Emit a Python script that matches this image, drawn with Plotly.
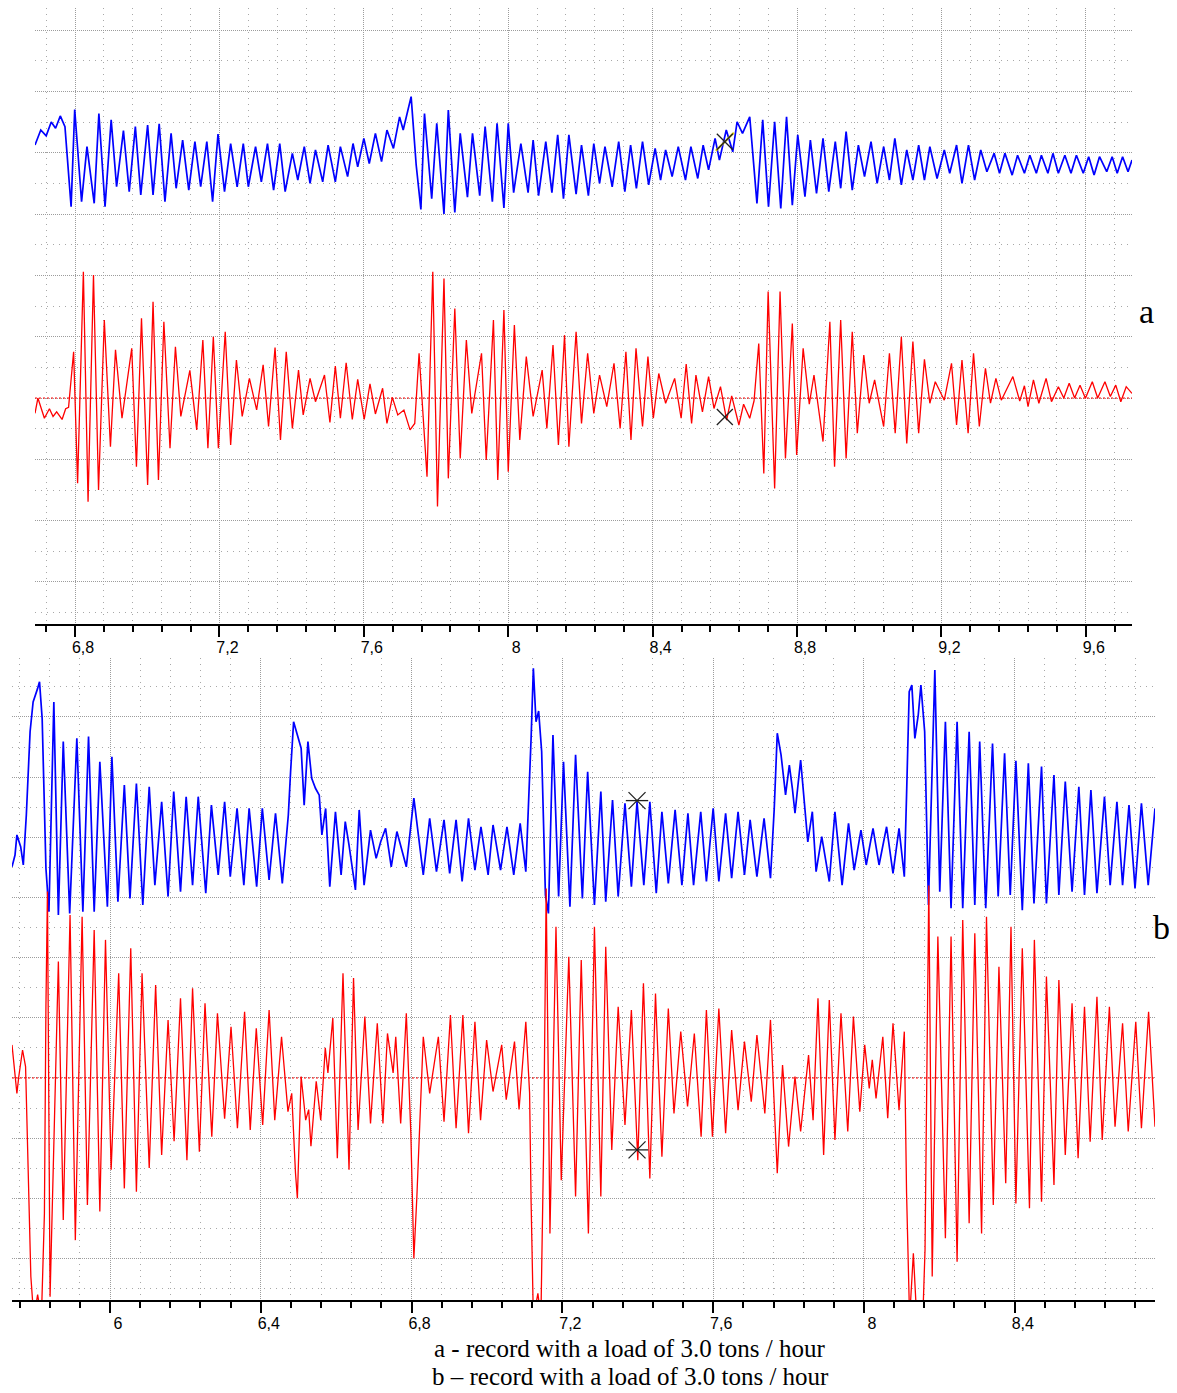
import plotly.graph_objects as go

# ---------------- data (time, signal in grid divisions) ----------------
A_BLUE_T = [6.689, 6.705, 6.720, 6.734, 6.746, 6.759, 6.772, 6.778, 6.789, 6.799, 6.818, 6.833, 6.853, 6.866, 6.883,
            6.900, 6.915, 6.934, 6.950, 6.967, 6.982, 7.001, 7.016, 7.033, 7.049, 7.066, 7.080, 7.098, 7.115, 7.132,
            7.148, 7.165, 7.181, 7.196, 7.214, 7.231, 7.249, 7.266, 7.280, 7.300, 7.316, 7.333, 7.350, 7.367, 7.382,
            7.402, 7.417, 7.435, 7.451, 7.466, 7.486, 7.501, 7.521, 7.535, 7.555, 7.570, 7.583, 7.600, 7.615, 7.632,
            7.649, 7.664, 7.682, 7.699, 7.709, 7.731, 7.745, 7.758, 7.768, 7.788, 7.802, 7.822, 7.834, 7.852, 7.867,
            7.887, 7.901, 7.921, 7.936, 7.956, 7.969, 7.988, 8.000, 8.015, 8.035, 8.055, 8.069, 8.084, 8.104, 8.121,
            8.137, 8.153, 8.168, 8.188, 8.203, 8.222, 8.237, 8.253, 8.268, 8.288, 8.306, 8.323, 8.339, 8.355, 8.372,
            8.389, 8.407, 8.422, 8.436, 8.454, 8.471, 8.491, 8.506, 8.525, 8.540, 8.555, 8.573, 8.585, 8.604, 8.622,
            8.634, 8.649, 8.669, 8.689, 8.705, 8.721, 8.738, 8.755, 8.771, 8.787, 8.802, 8.822, 8.837, 8.854, 8.872,
            8.888, 8.906, 8.921, 8.936, 8.953, 8.970, 8.987, 9.005, 9.022, 9.040, 9.056, 9.071, 9.089, 9.104, 9.121,
            9.137, 9.153, 9.168, 9.188, 9.208, 9.223, 9.242, 9.257, 9.275, 9.292, 9.309, 9.326, 9.346, 9.361, 9.376,
            9.396, 9.411, 9.430, 9.445, 9.463, 9.477, 9.495, 9.509, 9.524, 9.542, 9.559, 9.574, 9.593, 9.608, 9.623,
            9.638, 9.658, 9.673, 9.687, 9.702, 9.717, 9.728]
A_BLUE_V = [8.25, 8.74, 8.55, 9.00, 8.80, 9.20, 8.85, 7.90, 6.24, 9.41, 6.40, 8.20, 6.35, 9.28, 6.24,
            9.07, 6.89, 8.72, 6.73, 8.85, 6.62, 8.90, 6.62, 8.94, 6.40, 8.63, 6.84, 8.41, 6.78, 8.36,
            6.89, 8.36, 6.40, 8.61, 6.73, 8.30, 6.89, 8.30, 6.89, 8.20, 7.05, 8.30, 6.78, 8.30, 6.73,
            7.98, 7.11, 8.20, 7.00, 8.09, 7.05, 8.25, 7.05, 8.20, 7.22, 8.30, 7.54, 8.47, 7.65, 8.63,
            7.71, 8.74, 8.14, 9.17, 8.74, 9.83, 7.60, 6.15, 9.28, 6.50, 8.96, 6.00, 9.39, 6.05, 8.63,
            6.55, 8.63, 6.60, 8.85, 6.40, 8.96, 6.20, 8.96, 6.70, 8.30, 6.70, 8.41, 6.60, 8.36, 6.70,
            8.58, 6.50, 8.58, 6.65, 8.25, 6.60, 8.30, 7.00, 8.20, 6.89, 8.36, 6.73, 8.25, 6.84, 8.36,
            6.95, 8.14, 7.11, 8.09, 7.22, 8.20, 7.11, 8.20, 7.16, 8.25, 7.44, 8.47, 7.76, 8.74, 8.03,
            9.01, 8.63, 9.17, 6.35, 9.07, 6.24, 9.01, 6.18, 9.17, 6.29, 8.58, 6.57, 8.41, 6.67, 8.47,
            6.73, 8.36, 6.84, 8.69, 6.78, 8.25, 7.22, 8.36, 7.00, 8.20, 7.11, 8.47, 6.95, 8.09, 7.11,
            8.25, 7.11, 8.20, 7.16, 8.09, 7.33, 8.25, 7.00, 8.25, 7.11, 8.09, 7.38, 7.98, 7.33, 7.98,
            7.27, 7.92, 7.33, 7.92, 7.33, 7.92, 7.33, 7.98, 7.33, 7.92, 7.33, 7.92, 7.33, 7.87, 7.27,
            7.87, 7.38, 7.87, 7.33, 7.87, 7.38, 7.76]

A_RED_T = [6.689, 6.697, 6.715, 6.729, 6.739, 6.749, 6.764, 6.774, 6.782, 6.796, 6.807, 6.823, 6.836, 6.851, 6.865,
           6.881, 6.898, 6.912, 6.930, 6.957, 6.970, 6.984, 7.001, 7.016, 7.031, 7.046, 7.063, 7.078, 7.093, 7.118,
           7.137, 7.154, 7.168, 7.183, 7.197, 7.216, 7.231, 7.247, 7.263, 7.283, 7.303, 7.321, 7.336, 7.354, 7.369,
           7.385, 7.402, 7.419, 7.432, 7.451, 7.466, 7.491, 7.506, 7.521, 7.535, 7.551, 7.568, 7.583, 7.601, 7.617,
           7.632, 7.652, 7.664, 7.679, 7.694, 7.711, 7.728, 7.741, 7.753, 7.775, 7.791, 7.804, 7.822, 7.834, 7.852,
           7.867, 7.884, 7.899, 7.926, 7.939, 7.959, 7.971, 7.988, 8.000, 8.017, 8.032, 8.050, 8.069, 8.094, 8.107,
           8.124, 8.139, 8.156, 8.168, 8.188, 8.203, 8.220, 8.237, 8.253, 8.273, 8.293, 8.310, 8.326, 8.340, 8.354,
           8.372, 8.387, 8.402, 8.417, 8.436, 8.461, 8.479, 8.493, 8.508, 8.520, 8.538, 8.555, 8.570, 8.588, 8.605,
           8.619, 8.639, 8.652, 8.669, 8.681, 8.694, 8.708, 8.720, 8.738, 8.753, 8.768, 8.787, 8.799, 8.817, 8.834,
           8.847, 8.872, 8.891, 8.904, 8.921, 8.936, 8.953, 8.967, 8.985, 9.000, 9.015, 9.040, 9.056, 9.072, 9.089,
           9.104, 9.121, 9.137, 9.153, 9.168, 9.183, 9.208, 9.228, 9.242, 9.257, 9.274, 9.289, 9.305, 9.322, 9.336,
           9.351, 9.366, 9.398, 9.417, 9.430, 9.440, 9.455, 9.470, 9.490, 9.505, 9.524, 9.539, 9.554, 9.569, 9.584,
           9.599, 9.618, 9.633, 9.653, 9.668, 9.683, 9.697, 9.712, 9.728]
A_RED_V = [-0.50, 0.00, -0.66, -0.35, -0.60, -0.45, -0.70, -0.35, -0.30, 1.51, -2.78, 4.12, -3.38, 4.01, -3.00,
           2.54, -1.59, 1.57, -0.66, 1.62, -2.24, 2.60, -2.84, 3.14, -2.67, 2.49, -1.64, 1.67, -0.60, 0.90,
           -1.04, 1.89, -1.64, 2.00, -1.64, 2.16, -1.53, 1.24, -0.60, 0.64, -0.39, 1.08, -0.93, 1.65, -1.37,
           1.51, -0.99, 0.91, -0.55, 0.64, -0.12, 0.75, -0.80, 1.04, -0.66, 1.15, -0.70, 0.61, -0.70, 0.46,
           -0.52, 0.32, -0.83, 0.02, -0.55, -0.39, -1.04, -0.83, 1.46, -2.57, 4.12, -3.54, 3.90, -2.62, 2.92,
           -1.97, 1.89, -0.50, 1.46, -2.02, 2.54, -2.67, 2.87, -2.40, 2.38, -1.37, 1.35, -0.60, 0.91, -0.99,
           1.73, -1.53, 2.05, -1.59, 2.16, -0.83, 1.46, -0.50, 0.75, -0.28, 1.13, -0.99, 1.51, -1.37, 1.62,
           -0.93, 1.35, -0.66, 0.80, -0.17, 0.64, -0.66, 1.11, -0.83, 0.75, -0.45, 0.70, -0.34, 0.37, -0.72,
           0.07, -0.88, -0.20, -0.66, -0.09, 1.78, -2.46, 3.47, -2.95, 3.47, -1.97, 2.43, -1.86, 1.62, -0.20,
           0.75, -1.42, 2.49, -2.24, 2.54, -1.97, 2.16, -1.15, 1.40, -0.17, 0.59, -0.93, 1.46, -1.15, 2.00,
           -1.48, 1.84, -1.15, 1.26, -0.17, 0.53, -0.07, 1.13, -0.88, 1.24, -1.15, 1.46, -0.93, 0.97, -0.17,
           0.64, -0.07, 0.70, -0.10, 0.40, -0.28, 0.59, -0.17, 0.64, -0.12, 0.37, 0.00, 0.48, 0.00, 0.42,
           -0.01, 0.53, 0.00, 0.53, 0.05, 0.42, -0.12, 0.37, 0.15]

B_BLUE_T = [5.740, 5.748, 5.753, 5.763, 5.770, 5.778, 5.788, 5.796, 5.808, 5.813, 5.820, 5.830, 5.838, 5.851, 5.863,
            5.876, 5.893, 5.912, 5.928, 5.943, 5.958, 5.973, 5.993, 6.005, 6.021, 6.038, 6.053, 6.070, 6.087, 6.104,
            6.119, 6.137, 6.154, 6.169, 6.187, 6.202, 6.219, 6.234, 6.254, 6.269, 6.287, 6.304, 6.319, 6.337, 6.355,
            6.369, 6.389, 6.404, 6.422, 6.439, 6.457, 6.473, 6.479, 6.487, 6.497, 6.507, 6.515, 6.525, 6.535, 6.545,
            6.555, 6.562, 6.572, 6.583, 6.598, 6.613, 6.624, 6.634, 6.651, 6.661, 6.674, 6.691, 6.706, 6.718, 6.731,
            6.746, 6.761, 6.786, 6.806, 6.831, 6.848, 6.866, 6.886, 6.901, 6.918, 6.934, 6.951, 6.968, 6.984, 7.003,
            7.016, 7.036, 7.053, 7.071, 7.088, 7.103, 7.117, 7.123, 7.130, 7.137, 7.145, 7.155, 7.163, 7.175, 7.190,
            7.203, 7.220, 7.235, 7.253, 7.267, 7.285, 7.302, 7.315, 7.333, 7.348, 7.366, 7.383, 7.398, 7.416, 7.432,
            7.449, 7.464, 7.481, 7.499, 7.517, 7.533, 7.548, 7.567, 7.582, 7.600, 7.615, 7.633, 7.649, 7.666, 7.683,
            7.698, 7.716, 7.735, 7.752, 7.762, 7.770, 7.780, 7.792, 7.802, 7.810, 7.817, 7.832, 7.843, 7.851, 7.863,
            7.873, 7.888, 7.908, 7.923, 7.942, 7.959, 7.974, 7.992, 8.006, 8.024, 8.040, 8.060, 8.077, 8.093, 8.107,
            8.113, 8.120, 8.127, 8.135, 8.144, 8.151, 8.161, 8.171, 8.188, 8.201, 8.216, 8.231, 8.247, 8.262, 8.279,
            8.294, 8.307, 8.323, 8.341, 8.356, 8.373, 8.388, 8.403, 8.420, 8.436, 8.451, 8.471, 8.484, 8.504, 8.517,
            8.534, 8.552, 8.570, 8.585, 8.602, 8.618, 8.638, 8.653, 8.671, 8.686, 8.703, 8.719, 8.736, 8.754, 8.772]
B_BLUE_V = [7.02, 7.41, 8.08, 7.69, 7.08, 8.74, 11.51, 12.50, 12.95, 13.17, 11.95, 6.97, 5.53, 12.50, 5.42,
            11.18, 5.47, 11.29, 5.53, 11.35, 5.53, 10.51, 5.69, 10.68, 5.86, 9.74, 5.97, 9.79, 5.75, 9.68,
            6.41, 9.18, 6.03, 9.52, 6.19, 9.35, 6.41, 9.35, 6.14, 9.07, 6.75, 9.18, 6.69, 8.96, 6.41,
            8.96, 6.36, 8.96, 6.58, 8.80, 6.47, 8.74, 10.18, 11.84, 11.40, 10.96, 9.07, 11.18, 9.96, 9.63,
            9.40, 8.08, 8.96, 6.36, 8.85, 6.75, 8.52, 7.74, 6.25, 8.91, 6.41, 8.24, 7.30, 7.85, 8.30,
            7.02, 8.19, 7.02, 9.30, 6.75, 8.63, 6.86, 8.58, 6.80, 8.58, 6.53, 8.63, 6.91, 8.35, 6.75,
            8.41, 6.91, 8.35, 6.75, 8.46, 6.86, 11.29, 13.62, 11.84, 12.20, 10.85, 6.08, 5.47, 11.40, 6.03,
            10.51, 5.69, 10.74, 5.97, 10.18, 5.75, 9.52, 5.86, 9.24, 6.03, 9.13, 6.36, 9.18, 6.41, 9.18,
            6.14, 8.85, 6.47, 8.91, 6.41, 8.80, 6.41, 8.85, 6.53, 8.96, 6.53, 8.80, 6.64, 8.85, 6.75,
            8.58, 6.69, 8.63, 6.64, 8.96, 11.46, 10.74, 9.41, 10.40, 9.63, 8.80, 10.57, 9.07, 7.85, 8.85,
            6.86, 8.02, 6.53, 8.85, 6.41, 8.46, 6.91, 8.24, 7.08, 8.30, 7.08, 8.35, 6.80, 8.30, 6.69,
            9.41, 12.84, 13.06, 11.29, 12.07, 13.06, 11.51, 5.75, 13.56, 6.19, 11.84, 5.64, 11.84, 5.64, 11.51,
            5.75, 11.18, 5.64, 11.12, 6.03, 10.79, 6.08, 10.54, 5.58, 10.46, 5.80, 10.35, 5.80, 10.07, 6.08,
            9.85, 6.19, 9.68, 6.08, 9.57, 6.14, 9.35, 6.41, 9.18, 6.41, 9.07, 6.30, 9.13, 6.41, 8.96]

B_RED_T = [5.740, 5.746, 5.753, 5.758, 5.768, 5.776, 5.780, 5.786, 5.790, 5.798, 5.808, 5.818, 5.826, 5.830, 5.834,
           5.841, 5.863, 5.876, 5.894, 5.908, 5.926, 5.940, 5.958, 5.973, 5.988, 6.003, 6.023, 6.038, 6.055, 6.070,
           6.085, 6.104, 6.121, 6.137, 6.154, 6.170, 6.187, 6.204, 6.219, 6.237, 6.252, 6.270, 6.285, 6.304, 6.321,
           6.338, 6.357, 6.372, 6.388, 6.405, 6.422, 6.437, 6.455, 6.472, 6.482, 6.492, 6.497, 6.507, 6.519, 6.527,
           6.533, 6.547, 6.559, 6.571, 6.578, 6.591, 6.603, 6.618, 6.634, 6.646, 6.658, 6.676, 6.691, 6.709, 6.724,
           6.736, 6.751, 6.758, 6.771, 6.786, 6.798, 6.806, 6.814, 6.831, 6.848, 6.871, 6.886, 6.903, 6.918, 6.936,
           6.951, 6.968, 6.983, 6.999, 7.016, 7.039, 7.051, 7.073, 7.085, 7.103, 7.113, 7.117, 7.123, 7.135, 7.143,
           7.150, 7.157, 7.167, 7.183, 7.197, 7.217, 7.235, 7.250, 7.269, 7.285, 7.302, 7.315, 7.331, 7.348, 7.366,
           7.383, 7.400, 7.415, 7.432, 7.447, 7.464, 7.481, 7.496, 7.514, 7.532, 7.550, 7.568, 7.582, 7.598, 7.615,
           7.633, 7.649, 7.666, 7.683, 7.701, 7.716, 7.737, 7.752, 7.770, 7.784, 7.800, 7.817, 7.832, 7.853, 7.865,
           7.878, 7.893, 7.908, 7.923, 7.939, 7.957, 7.972, 7.989, 8.002, 8.014, 8.022, 8.032, 8.050, 8.063, 8.077,
           8.093, 8.107, 8.113, 8.121, 8.131, 8.140, 8.156, 8.162, 8.168, 8.172, 8.181, 8.196, 8.216, 8.231, 8.247,
           8.262, 8.279, 8.294, 8.312, 8.325, 8.343, 8.358, 8.376, 8.390, 8.403, 8.420, 8.439, 8.452, 8.471, 8.484,
           8.504, 8.517, 8.534, 8.552, 8.568, 8.585, 8.600, 8.618, 8.632, 8.651, 8.666, 8.686, 8.701, 8.721, 8.736,
           8.755, 8.772]
B_RED_V = [1.10, 0.38, -0.51, 0.05, 0.93, 0.38, -1.73, -4.50, -6.60, -8.00, -7.20, -8.00, -4.50, 2.37, 6.20,
           -7.27, 3.87, -4.72, 5.42, -5.39, 5.36, -4.22, 4.92, -4.44, 4.59, -3.05, 3.48, -3.67, 4.31, -3.78,
           3.48, -2.99, 3.09, -2.56, 1.93, -2.10, 2.65, -2.73, 2.98, -2.45, 2.48, -1.95, 2.15, -1.35, 1.70,
           -1.67, 2.20, -1.73, 1.65, -1.56, 2.26, -1.40, 1.37, -1.12, -0.51, -3.16, -4.00, 0.05, -1.40, -1.05,
           -2.27, -0.11, -1.40, 1.00, 0.17, 1.99, -2.67, 3.48, -3.05, 3.32, -1.73, 2.04, -1.51, 1.82, -1.51,
           1.48, 0.17, 1.37, -1.51, 2.15, -1.84, -6.00, -3.94, 1.37, -0.51, 1.37, -1.45, 2.09, -1.67, 2.09,
           -1.84, 1.87, -1.40, 1.26, -0.45, 1.10, -0.72, 1.21, -1.05, 1.87, -0.50, -4.11, -8.00, -7.16, -8.00,
           -2.49, 6.30, -5.17, 5.03, -3.40, 4.03, -3.94, 3.92, -5.17, 5.03, -3.94, 4.36, -2.39, 2.37, -1.56,
           2.26, -2.73, 3.15, -3.34, 2.81, -2.62, 2.31, -1.18, 1.54, -0.95, 1.48, -1.95, 2.26, -1.95, 2.31,
           -1.84, 1.59, -1.07, 1.21, -0.79, 1.43, -1.18, 1.93, -3.17, 0.43, -2.28, 0.05, -1.78, 0.76, -1.40,
           2.65, -2.56, 2.59, -2.06, 2.15, -1.78, 2.04, -1.12, 1.10, -0.35, 0.60, -0.68, 1.37, -1.34, 1.82,
           -1.07, 1.54, -3.83, -8.00, -5.83, -8.00, -8.00, -5.70, 1.59, 6.40, -6.60, 4.70, -5.33, 4.70, -6.11,
           5.25, -4.83, 4.81, -5.17, 5.36, -4.22, 3.70, -3.50, 5.03, -4.17, 4.31, -4.33, 4.59, -4.11, 3.37,
           -3.56, 3.26, -2.56, 2.48, -2.67, 2.37, -2.12, 2.70, -2.06, 2.37, -1.62, 1.82, -1.78, 1.87, -1.67,
           2.20, -1.62]

# cursor crosses (blue, red)
A_CURSOR_T = [8.600, 8.600]
A_CURSOR_V = [8.36, -0.62]
B_CURSOR_T = [7.398, 7.398]
B_CURSOR_V = [9.22, -2.39]

A_TICKS = [6.8, 7.2, 7.6, 8.0, 8.4, 8.8, 9.2, 9.6]
A_TICK_LABELS = ["6,8", "7,2", "7,6", "8", "8,4", "8,8", "9,2", "9,6"]
B_TICKS = [6.0, 6.4, 6.8, 7.2, 7.6, 8.0, 8.4]
B_TICK_LABELS = ["6", "6,4", "6,8", "7,2", "7,6", "8", "8,4"]

PANEL_LABELS = ["a", "b"]
CAPTIONS = ["a - record with a load of 3.0 tons / hour",
            "b \u2013 record with a load of 3.0 tons / hour"]

# ---------------- figure ----------------
# the page body has an 8px default margin; size/position the figure to compensate
OFF = 8
PAGE_W, PAGE_H = 1177, 1393
W, H = PAGE_W - OFF, PAGE_H - OFF


def fx(p):
    return (p - OFF) / W


def fy(p):
    return 1 - max(p - OFF, 0) / H


BLUE = "#0000ff"
RED = "#ff0000"
MAJ_GRID = "#9c9c9c"
MIN_GRID = "#a8a8a8"
CROSS = "#202020"

fig = go.Figure()

fig.add_trace(go.Scatter(x=A_BLUE_T, y=A_BLUE_V, mode="lines", line=dict(color=BLUE, width=1.7),
                         xaxis="x", yaxis="y", hoverinfo="skip"))
fig.add_trace(go.Scatter(x=A_RED_T, y=A_RED_V, mode="lines", line=dict(color=RED, width=1.3),
                         xaxis="x", yaxis="y", hoverinfo="skip"))
fig.add_trace(go.Scatter(x=B_BLUE_T, y=B_BLUE_V, mode="lines", line=dict(color=BLUE, width=1.7),
                         xaxis="x2", yaxis="y2", hoverinfo="skip"))
fig.add_trace(go.Scatter(x=B_RED_T, y=B_RED_V, mode="lines", line=dict(color=RED, width=1.3),
                         xaxis="x2", yaxis="y2", hoverinfo="skip"))

# cursor markers
fig.add_trace(go.Scatter(x=A_CURSOR_T[:1], y=A_CURSOR_V[:1], mode="markers",
                         marker=dict(symbol="line-ne-open", size=18, color="#d8c800",
                                     line=dict(color="#d8c800", width=2)),
                         xaxis="x", yaxis="y", hoverinfo="skip"))
fig.add_trace(go.Scatter(x=A_CURSOR_T, y=A_CURSOR_V, mode="markers",
                         marker=dict(symbol="x-thin-open", size=16, color=CROSS,
                                     line=dict(color=CROSS, width=1.3)),
                         xaxis="x", yaxis="y", hoverinfo="skip"))
fig.add_trace(go.Scatter(x=B_CURSOR_T, y=B_CURSOR_V, mode="markers",
                         marker=dict(symbol="x-thin-open", size=17, color=CROSS,
                                     line=dict(color=CROSS, width=1.3)),
                         xaxis="x2", yaxis="y2", hoverinfo="skip"))
fig.add_trace(go.Scatter(x=B_CURSOR_T, y=B_CURSOR_V, mode="markers",
                         marker=dict(symbol="line-ew-open", size=16, color=CROSS,
                                     line=dict(color=CROSS, width=1.3)),
                         xaxis="x2", yaxis="y2", hoverinfo="skip"))


def xaxis_style(domain, rng, ticks, labels):
    return dict(
        domain=domain, range=rng, tickmode="array", tickvals=ticks, ticktext=labels,
        ticks="outside", ticklen=11, tickwidth=2, tickcolor="black",
        showline=True, linecolor="black", linewidth=2,
        showgrid=True, gridcolor=MAJ_GRID, gridwidth=1, griddash="1px,1px",
        zeroline=False, ticklabelshift=8, ticklabelstandoff=-3,
        tickfont=dict(family="Liberation Sans", size=16, color="black"),
        minor=dict(tickmode="linear", tick0=ticks[0], dtick=0.08, ticks="outside", ticklen=6,
                   tickwidth=2, tickcolor="black", showgrid=True, gridcolor=MIN_GRID,
                   gridwidth=1, griddash="1px,5px"),
        fixedrange=True,
    )


def yaxis_style(domain, rng, anchor):
    return dict(
        domain=domain, range=rng, anchor=anchor, tickmode="linear", tick0=0, dtick=2,
        showticklabels=False, ticks="", showline=False, zeroline=False,
        showgrid=True, gridcolor=MAJ_GRID, gridwidth=1, griddash="1px,1px",
        minor=dict(tickmode="linear", tick0=0, dtick=1, showgrid=True, gridcolor=MIN_GRID,
                   gridwidth=1, griddash="1px,5px"),
        fixedrange=True,
    )


fig.update_layout(
    width=W, height=H, margin=dict(l=0, r=0, t=0, b=0),
    paper_bgcolor="white", plot_bgcolor="white", showlegend=False,
    separators=", ",
    xaxis=dict(**xaxis_style([fx(35), fx(1132)], [6.689, 9.728], A_TICKS, A_TICK_LABELS), anchor="y"),
    yaxis=yaxis_style([fy(624), fy(0)], [-7.37, 12.72], "x"),
    xaxis2=dict(**xaxis_style([fx(12), fx(1155)], [5.740, 8.772], B_TICKS, B_TICK_LABELS), anchor="y2"),
    yaxis2=yaxis_style([fy(1300), fy(658)], [-7.38, 13.96], "x2"),
)

# red dotted zero reference lines
for xr, yr in (("x domain", "y"), ("x2 domain", "y2")):
    fig.add_shape(type="line", xref=xr, yref=yr, x0=0, x1=1, y0=0, y1=0,
                  line=dict(color=RED, width=1, dash="2px,2px"), layer="above")

# panel letters
fig.add_annotation(text=PANEL_LABELS[0], xref="paper", yref="paper", x=fx(1146), y=fy(311),
                   xanchor="center", yanchor="middle", showarrow=False,
                   font=dict(family="Liberation Serif", size=34, color="black"))
fig.add_annotation(text=PANEL_LABELS[1], xref="paper", yref="paper", x=fx(1161), y=fy(927),
                   xanchor="center", yanchor="middle", showarrow=False,
                   font=dict(family="Liberation Serif", size=34, color="black"))

# captions
fig.add_annotation(text=CAPTIONS[0], xref="paper", yref="paper", x=fx(630), y=fy(1348),
                   xanchor="center", yanchor="middle", showarrow=False, borderpad=0,
                   font=dict(family="Liberation Serif", size=25, color="black"))
fig.add_annotation(text=CAPTIONS[1], xref="paper", yref="paper", x=fx(630), y=fy(1376),
                   xanchor="center", yanchor="middle", showarrow=False, borderpad=0,
                   font=dict(family="Liberation Serif", size=25, color="black"))

fig.write_html("out.html")
